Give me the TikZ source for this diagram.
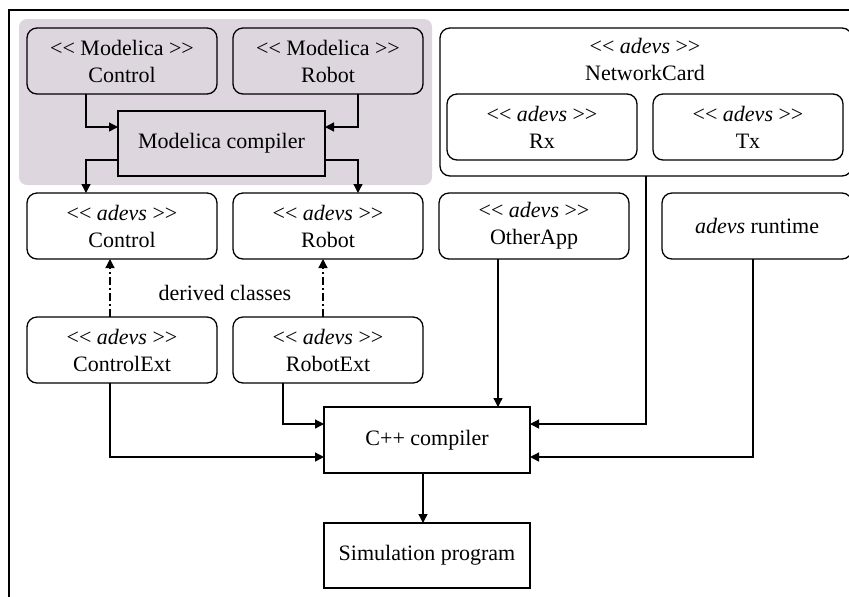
\documentclass[tikz,border=0pt]{standalone}
\usepackage{fontspec}
\setmainfont{Liberation Serif}
\usetikzlibrary{arrows.meta}
\definecolor{modbg}{RGB}{221,214,223}
\begin{document}
\begin{tikzpicture}[x=0.5pt,y=-0.5pt,
  font=\fontsize{11}{13.5}\selectfont,
  box/.style={draw,line width=0.65pt,rounded corners=5pt,anchor=north west,
    minimum width=95pt,minimum height=33pt,align=center,inner sep=1pt,outer sep=0pt},
  sqbox/.style={draw,line width=0.65pt,anchor=north west,
    minimum width=103pt,minimum height=33pt,align=center,inner sep=1pt,outer sep=0pt},
  arr/.style={line width=0.65pt,-{Triangle[length=4.5pt,width=4.5pt]}},
  dd/.style={arr,dash pattern=on 4pt off 1.5pt on 1pt off 1.5pt}]
\useasboundingbox (0,0) rectangle (849,596);
\clip (0,0) rectangle (849,596);
% shaded region
\fill[modbg,rounded corners=4pt] (19,19) rectangle (432,185);
% frame
\draw[line width=1pt] (9,600) -- (9,10) -- (860,10);
% Modelica row
\node[box] (mC) at (27,28) {<{}< Modelica >{}>\\Control};
\node[box] (mR) at (233,28) {<{}< Modelica >{}>\\Robot};
\node[sqbox,minimum width=103.5pt,minimum height=32.5pt] (mc) at (118,111) {Modelica compiler};
% NetworkCard
\node[box,minimum width=206pt,minimum height=74pt] (net) at (440,28) {};
\node[align=center,inner sep=0pt] (netl) at (645,59) {<{}< \textit{adevs} >{}>\\NetworkCard};
\node[box] (rx) at (447,94) {<{}< \textit{adevs} >{}>\\Rx};
\node[box] (tx) at (653,94) {<{}< \textit{adevs} >{}>\\Tx};
% adevs row
\node[box] (aC) at (27,193) {<{}< \textit{adevs} >{}>\\Control};
\node[box] (aR) at (233,193) {<{}< \textit{adevs} >{}>\\Robot};
\node[box] (oa) at (439,193) {<{}< \textit{adevs} >{}>\\OtherApp};
\node[box,minimum width=95pt] (rt) at (662,193) {\textit{adevs} runtime};
% derived
\node[inner sep=0pt] (dc) at (225,293) {derived classes};
\node[box] (cE) at (27,317) {<{}< \textit{adevs} >{}>\\ControlExt};
\node[box] (rE) at (233,317) {<{}< \textit{adevs} >{}>\\RobotExt};
% compilers
\node[sqbox] (cpp) at (324,407) {C++ compiler};
\node[sqbox,minimum height=32.5pt] (sim) at (324,523) {Simulation program};
% connectors
\draw[arr] (mC.south -| 86,0) |- (mc.west |- 0,127);
\draw[arr] (mR.south -| 358,0) |- (mc.east |- 0,127);
\draw[arr] (mc.west |- 0,160) -| (aC.north -| 86,0);
\draw[arr] (mc.east |- 0,160) -| (aR.north -| 358,0);
\draw[dd] (cE.north -| 110,0) -- (aC.south -| 110,0);
\draw[dd] (rE.north -| 323,0) -- (aR.south -| 323,0);
\draw[arr] (cE.south -| 110,0) |- (cpp.west |- 0,457);
\draw[arr] (rE.south -| 283,0) |- (cpp.west |- 0,424);
\draw[arr] (oa.south -| 498,0) -- (cpp.north -| 498,0);
\draw[arr] (net.south -| 646,0) |- (cpp.east |- 0,424);
\draw[arr] (rt.south -| 753,0) |- (cpp.east |- 0,457);
\draw[arr] (cpp.south -| 423,0) -- (sim.north -| 423,0);
\end{tikzpicture}
\end{document}
